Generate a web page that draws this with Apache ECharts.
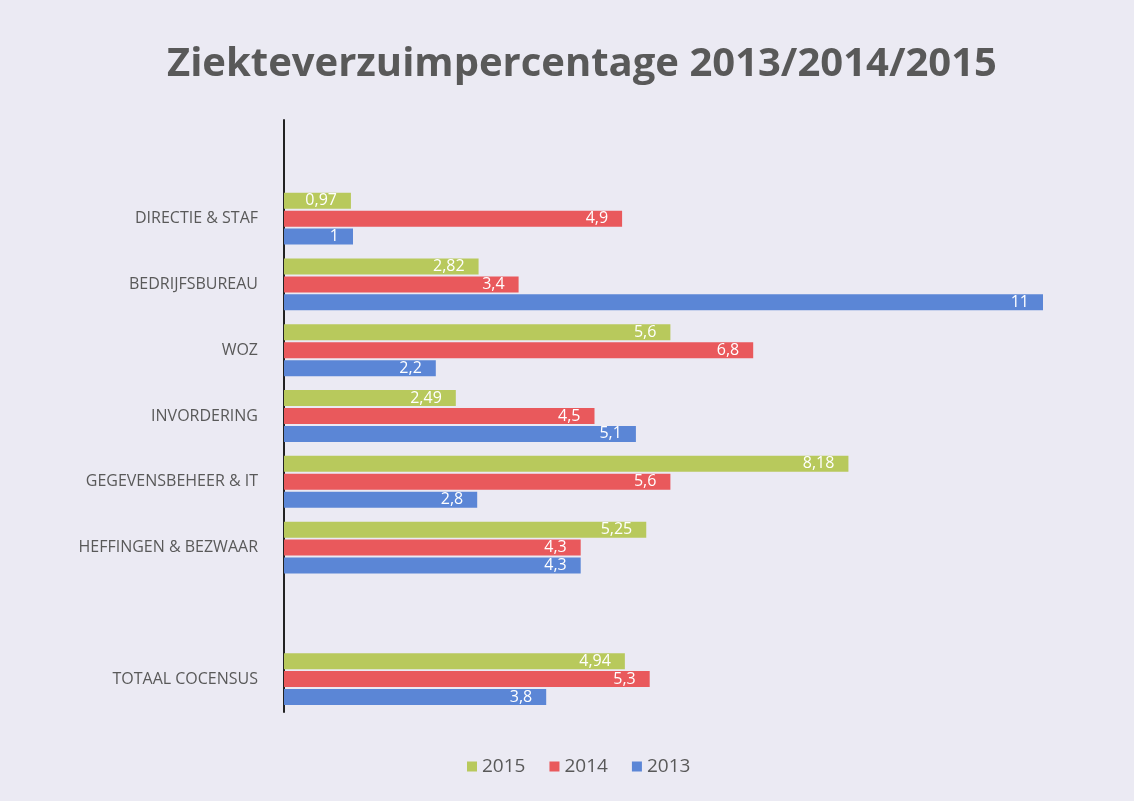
<!DOCTYPE html>
<html>
<head>
<meta charset="utf-8">
<script src="https://cdn.jsdelivr.net/npm/echarts@6/dist/echarts.min.js"></script>
<style>
  html, body { margin: 0; padding: 0; background: #ebeaf3; }
  #chart { width: 1134px; height: 801px; }
</style>
</head>
<body>
<div id="chart"></div>
<script>
  // categories top to bottom; empty slots keep the gaps of the original
  const categories = [" ", "DIRECTIE & STAF", "BEDRIJFSBUREAU", "WOZ", "INVORDERING",
    "GEGEVENSBEHEER & IT", "HEFFINGEN & BEZWAAR", "  ", "TOTAAL COCENSUS"];
  const values2015 = [null, 0.97, 2.82, 5.6, 2.49, 8.18, 5.25, null, 4.94];
  const values2014 = [null, 4.9, 3.4, 6.8, 4.5, 5.6, 4.3, null, 5.3];
  const values2013 = [null, 1, 11, 2.2, 5.1, 2.8, 4.3, null, 3.8];

  const font = "'Open Sans', 'Liberation Sans', sans-serif";
  const commaLabel = (p) => String(p.value).replace(".", ",");

  const barSeries = (name, data, color) => ({
    name,
    type: "bar",
    data,
    barWidth: 16,
    barGap: "12%",
    itemStyle: { color },
    label: {
      show: true,
      position: "insideRight",
      distance: 14,
      color: "#fff",
      fontSize: 16,
      fontFamily: font,
      formatter: commaLabel,
    },
  });

  const chart = echarts.init(document.getElementById("chart"));
  chart.setOption({
    animation: false,
    backgroundColor: "#ebeaf3",
    title: {
      text: "Ziekteverzuimpercentage 2013/2014/2015",
      left: 162,
      top: 40,
      textStyle: { color: "#595959", fontSize: 40, fontWeight: "bold", fontFamily: font },
    },
    grid: { left: 284, right: 91, top: 120, bottom: 89 },
    legend: {
      bottom: 20,
      left: 462,
      itemWidth: 10,
      itemHeight: 10,
      itemGap: 24,
      icon: "rect",
      textStyle: { color: "#595959", fontSize: 19, fontFamily: font },
      data: ["2015", "2014", "2013"],
    },
    xAxis: {
      type: "value",
      min: 0,
      max: 11,
      show: false,
    },
    yAxis: {
      type: "category",
      inverse: true,
      data: categories,
      axisLine: { lineStyle: { color: "#222", width: 2 } },
      axisTick: { show: false },
      axisLabel: { color: "#595959", fontSize: 16, fontFamily: font, margin: 26 },
    },
    series: [
      barSeries("2015", values2015, "#b8c95c"),
      barSeries("2014", values2014, "#e9595c"),
      barSeries("2013", values2013, "#5b86d6"),
    ],
  });
</script>
</body>
</html>
